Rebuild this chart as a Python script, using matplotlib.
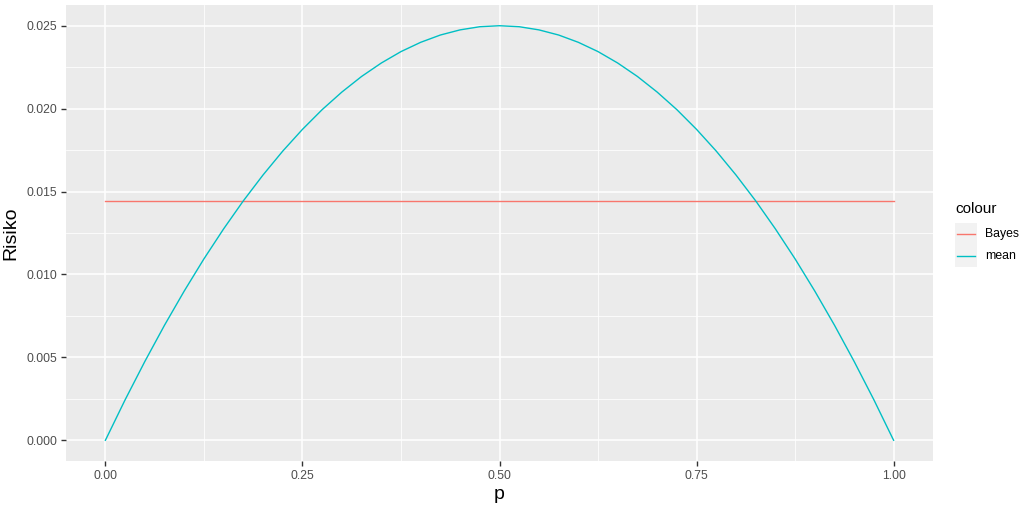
import matplotlib.pyplot as plt
from matplotlib.lines import Line2D
from matplotlib.patches import Rectangle

plt.rcParams['font.family'] = ['Liberation Sans', 'DejaVu Sans']

# risk values
p = [0.000, 0.025, 0.050, 0.075, 0.100, 0.125, 0.150, 0.175, 0.200, 0.225,
     0.250, 0.275, 0.300, 0.325, 0.350, 0.375, 0.400, 0.425, 0.450, 0.475,
     0.500, 0.525, 0.550, 0.575, 0.600, 0.625, 0.650, 0.675, 0.700, 0.725,
     0.750, 0.775, 0.800, 0.825, 0.850, 0.875, 0.900, 0.925, 0.950, 0.975, 1.000]
risk_mean = [0.0000, 0.00244, 0.00475, 0.00694, 0.0090, 0.01094, 0.01275, 0.01444,
             0.0160, 0.01744, 0.01875, 0.01994, 0.0210, 0.02194, 0.02275, 0.02344,
             0.0240, 0.02444, 0.02475, 0.02494, 0.0250, 0.02494, 0.02475, 0.02444,
             0.0240, 0.02344, 0.02275, 0.02194, 0.0210, 0.01994, 0.01875, 0.01744,
             0.0160, 0.01444, 0.01275, 0.01094, 0.0090, 0.00694, 0.00475, 0.00244, 0.0000]
risk_bayes = 0.01443
p_bayes = [0.0, 1.0]

xticks = [0.0, 0.25, 0.5, 0.75, 1.0]
xlabels = ["0.00", "0.25", "0.50", "0.75", "1.00"]
yticks = [0.0, 0.005, 0.010, 0.015, 0.020, 0.025]
ylabels = ["0.000", "0.005", "0.010", "0.015", "0.020", "0.025"]

W, H = 1034, 511
fig = plt.figure(figsize=(W / 100, H / 100), dpi=100)
ax = fig.add_axes([66 / W, 1 - 461 / H, (933 - 66) / W, (461 - 5) / H])

ax.set_facecolor('#EBEBEB')
for s in ax.spines.values():
    s.set_visible(False)

ax.set_xlim(-0.05, 1.05)
ax.set_ylim(-0.00125, 0.02625)
ax.set_xticks(xticks)
ax.set_xticklabels(xlabels)
ax.set_yticks(yticks)
ax.set_yticklabels(ylabels)
ax.set_xticks([0.125, 0.375, 0.625, 0.875], minor=True)
ax.set_yticks([0.0025, 0.0075, 0.0125, 0.0175, 0.0225], minor=True)
ax.grid(which='major', color='white', linewidth=1.1)
ax.grid(which='minor', color='white', linewidth=0.55)
ax.set_axisbelow(True)
ax.tick_params(which='major', length=3.5, width=1, color='#333333',
               labelsize=8.8, labelcolor='#4D4D4D', pad=3)
ax.tick_params(which='minor', length=0)

ax.plot(p_bayes, [risk_bayes, risk_bayes], color='#F8766D', linewidth=1.0)
ax.plot(p, risk_mean, color='#00BFC4', linewidth=1.0)

ax.set_xlabel('p', fontsize=14, labelpad=3)
ax.set_ylabel('Risiko', fontsize=14, labelpad=5)

# legend drawn by hand in figure pixels
fig.text(955 / W, 1 - 209 / H, 'colour', fontsize=11, va='center', ha='left')
colors = ['#F8766D', '#00BFC4']
names = ['Bayes', 'mean']
for i, (c, n) in enumerate(zip(colors, names)):
    y0 = 223 + 22 * i
    fig.patches.append(Rectangle((955 / W, 1 - (y0 + 22) / H), 22 / W, 22 / H,
                                 transform=fig.transFigure, facecolor='#F2F2F2',
                                 edgecolor='none'))
    fig.lines.append(Line2D([957 / W, 975 / W], [1 - (y0 + 11) / H] * 2,
                            transform=fig.transFigure, color=c, linewidth=1.0))
    fig.text(985 / W, 1 - (y0 + 11) / H, n, fontsize=8.8, va='center', ha='left')

fig.savefig('out.png', dpi=100)
